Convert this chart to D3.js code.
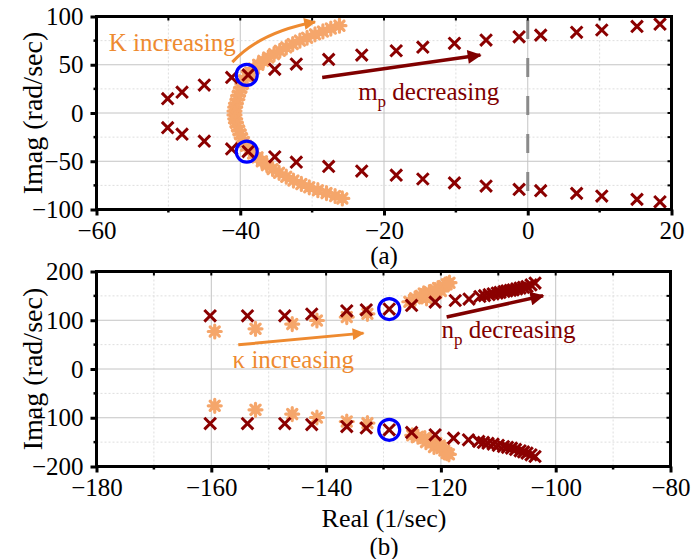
<!DOCTYPE html>
<html>
<head>
<meta charset="utf-8">
<script src="https://cdn.jsdelivr.net/npm/d3@7"></script>
<style>
  body { margin: 0; background: #fff; }
  svg { display: block; }
</style>
</head>
<body>
<div id="chart"></div>
<script>
// ---- panel (a): m_p sweep (crosses) and K sweep (asterisks) ----
const aCrossX = [-50.1, -48.1, -45.0, -41.2, -38.9, -35.2, -32.2, -27.7, -23.1, -18.3, -14.6, -10.2, -5.8, -1.2, 1.8, 6.8, 10.3, 15.2, 18.4];
const aCrossUp = [14.8, 21.6, 29, 36.9, 39.4, 45.3, 50.7, 55.5, 60, 64.5, 68.2, 72.2, 75.6, 79, 80.7, 83.6, 86, 89.7, 92];
const aCrossDown = [-15.2, -22.0, -29.2, -37.2, -40.0, -45.4, -51.0, -55.4, -60.2, -64.4, -68.4, -72.4, -75.7, -79.2, -80.5, -83.3, -86.1, -89.5, -92];

const aStarUp = [
  [-40.8, 2], [-40.7, 6], [-40.6, 10], [-40.4, 14], [-40.3, 18], [-40.1, 22], [-39.9, 26], [-39.7, 30],
  [-39.5, 34], [-39.1, 38], [-38.6, 42], [-38.1, 46], [-37.5, 50], [-36.8, 54], [-36.1, 57.5], [-35.3, 61],
  [-34.5, 64.5], [-33.6, 68], [-32.7, 71.5], [-31.7, 75], [-30.7, 78], [-29.6, 81.5], [-28.5, 84.5],
  [-27.4, 87.5], [-26.2, 90.5]
];
const aStarDown = [
  [-40.8, -2], [-40.7, -6], [-40.6, -10], [-40.4, -14], [-40.2, -18], [-40.0, -22], [-39.8, -26], [-39.5, -30],
  [-39.2, -34], [-38.7, -38], [-38.2, -42], [-37.6, -46], [-37.0, -50], [-36.3, -54], [-35.5, -58], [-34.6, -62],
  [-33.6, -66], [-32.6, -70], [-31.5, -73.5], [-30.4, -77], [-29.2, -80], [-28.0, -83], [-26.8, -86], [-25.8, -88.5]
];
const aCircles = [[-39.1, 39.5], [-39.1, -40]];

// ---- panel (b): n_p sweep (crosses) and kappa sweep (asterisks) ----
const bCrossUp = [
  [-160.2, 109], [-153.7, 109], [-147.2, 109], [-142.5, 112.6], [-136.4, 119.4], [-133.0, 121.4], [-129.0, 123],
  [-125.1, 130.3], [-121.0, 137.2], [-117.5, 140.5], [-115.1, 143.4], [-113.2, 148.7], [-112.4, 150.5],
  [-111.6, 152.5], [-110.9, 154.3], [-110.2, 155.8], [-109.7, 157], [-109.0, 159], [-108.5, 160.4],
  [-107.9, 161.5], [-107.4, 162.5], [-106.8, 164.3], [-106.2, 166], [-105.6, 167.6], [-105.0, 169.2],
  [-104.3, 172.5], [-103.6, 176.2]
];
const bCrossDown = [
  [-160.2, -112], [-153.7, -112], [-147.2, -112], [-142.5, -114], [-136.4, -118], [-133.0, -121], [-129.0, -124.7],
  [-125.1, -130.2], [-121.0, -135], [-117.8, -141.8], [-115.2, -145.2], [-113.4, -148.5], [-112.6, -150.7],
  [-111.8, -152.3], [-110.9, -154], [-110.0, -156.5], [-109.1, -159], [-108.4, -160.7], [-107.7, -162.3],
  [-107.0, -165], [-106.2, -167.8], [-105.6, -170.2], [-105.0, -172.5], [-104.3, -176], [-103.6, -179.5]
];
const bStarUp = [
  [-159.4, 76.9], [-152.3, 82.5], [-145.9, 92.1], [-141.6, 99.5], [-136.4, 106.5], [-132.8, 113.2],
  [-125.5, 138], [-124.5, 145], [-123.5, 150], [-122.5, 145], [-123.0, 155], [-122.0, 158], [-121.0, 155],
  [-121.0, 162], [-120.0, 160], [-120.5, 166], [-119.5, 170], [-119.0, 174], [-118.5, 177]
];
const bStarDown = [
  [-159.4, -75.5], [-152.3, -83.7], [-145.9, -92.5], [-141.6, -99.5], [-136.4, -107.7], [-132.8, -111],
  [-125.0, -136], [-124.0, -139], [-122.8, -141.5], [-121.8, -146], [-122.6, -150], [-120.8, -152],
  [-120.2, -157], [-121.2, -160], [-119.9, -162.3], [-119.4, -167], [-119.0, -172.5], [-118.6, -175]
];
const bCircles = [[-129, 123], [-129, -124.7]];

const aXTicks = [-60, -40, -20, 0, 20];
const aYTicks = [-100, -50, 0, 50, 100];
const bXTicks = [-180, -160, -140, -120, -100, -80];
const bYTicks = [-200, -100, 0, 100, 200];

const W = 691, H = 559;
const FONT = '"Liberation Serif", "Times New Roman", Tinos, "DejaVu Serif", serif';
const crossColor = "#8b0000";
const starColor = "#f5a66b";
const noteOrange = "#ee8a30";
const noteRed = "#800000";

const svg = d3.select("#chart").append("svg")
  .attr("width", W).attr("height", H)
  .style("font-family", FONT);

const defs = svg.append("defs");
[["headOrange", noteOrange], ["headRed", noteRed]].forEach(([id, c]) => {
  defs.append("marker")
    .attr("id", id)
    .attr("viewBox", "0 0 10 10")
    .attr("refX", 9).attr("refY", 5)
    .attr("markerWidth", 5).attr("markerHeight", 4)
    .attr("markerUnits", "strokeWidth")
    .attr("orient", "auto")
    .append("path")
    .attr("d", "M0,0 L10,5 L0,10 z")
    .attr("fill", c);
});

function crossPath(s) {
  return `M${-s},${-s}L${s},${s}M${-s},${s}L${s},${-s}`;
}
function starPath(s) {
  const d = s * 0.707;
  return `M${-s},0L${s},0M0,${-s}L0,${s}M${-d},${-d}L${d},${d}M${-d},${d}L${d},${-d}`;
}

function panel(opt) {
  const x = d3.scaleLinear().domain(opt.xDomain).range([opt.left, opt.right]);
  const y = d3.scaleLinear().domain(opt.yDomain).range([opt.bottom, opt.top]);
  const g = svg.append("g");

  // grid
  const xMinor = d3.range(opt.xDomain[0], opt.xDomain[1] + 0.001, opt.xStep / 2);
  const yMinor = d3.range(opt.yDomain[0], opt.yDomain[1] + 0.001, opt.yStep / 2);
  g.append("g").selectAll("line").data(xMinor).join("line")
    .attr("x1", d => x(d)).attr("x2", d => x(d))
    .attr("y1", opt.top).attr("y2", opt.bottom)
    .attr("stroke", (d, i) => i % 2 ? "#dedede" : "#c4c4c4")
    .attr("stroke-width", 1)
    .attr("stroke-dasharray", (d, i) => i % 2 ? "2,2" : null);
  g.append("g").selectAll("line").data(yMinor).join("line")
    .attr("y1", d => y(d)).attr("y2", d => y(d))
    .attr("x1", opt.left).attr("x2", opt.right)
    .attr("stroke", (d, i) => i % 2 ? "#dedede" : "#c4c4c4")
    .attr("stroke-width", 1)
    .attr("stroke-dasharray", (d, i) => i % 2 ? "2,2" : null);

  if (opt.extra) opt.extra(g, x, y);

  // markers
  const star = starPath(6.5), cross = crossPath(5.8);
  g.append("g").selectAll("path").data(opt.stars).join("path")
    .attr("transform", d => `translate(${x(d[0])},${y(d[1])})`)
    .attr("d", star)
    .attr("fill", "none").attr("stroke", starColor)
    .attr("stroke-width", 3.2).attr("stroke-linecap", "round");
  g.append("g").selectAll("path").data(opt.crosses).join("path")
    .attr("transform", d => `translate(${x(d[0])},${y(d[1])})`)
    .attr("d", cross)
    .attr("fill", "none").attr("stroke", crossColor)
    .attr("stroke-width", 3);
  g.append("g").selectAll("circle").data(opt.circles).join("circle")
    .attr("cx", d => x(d[0])).attr("cy", d => y(d[1]))
    .attr("r", 10.5)
    .attr("fill", "none").attr("stroke", "#0000ff").attr("stroke-width", 3.2);

  // annotations
  opt.notes(g, x, y);

  // axes
  const fmt = d3.format("d");
  const ax = g.append("g").attr("transform", `translate(0,${opt.bottom})`)
    .call(d3.axisBottom(x).tickValues(opt.xTicks).tickSize(6).tickPadding(6).tickFormat(fmt));
  const ay = g.append("g").attr("transform", `translate(${opt.left},0)`)
    .call(d3.axisLeft(y).tickValues(opt.yTicks).tickSize(6).tickPadding(7).tickFormat(fmt));
  [ax, ay].forEach(a => {
    a.attr("font-family", null).attr("font-size", null);
    a.select(".domain").remove();
    a.selectAll("line").attr("stroke", "#000").attr("stroke-width", 3);
    a.selectAll("text").attr("fill", "#000").style("font-size", "25px")
      .style("font-family", FONT);
  });
  // minor ticks
  g.append("g").selectAll("line").data(xMinor.filter((d, i) => i % 2)).join("line")
    .attr("x1", d => x(d)).attr("x2", d => x(d))
    .attr("y1", opt.bottom).attr("y2", opt.bottom + 3)
    .attr("stroke", "#000").attr("stroke-width", 2.5);
  g.append("g").selectAll("line").data(yMinor.filter((d, i) => i % 2)).join("line")
    .attr("y1", d => y(d)).attr("y2", d => y(d))
    .attr("x1", opt.left - 3).attr("x2", opt.left)
    .attr("stroke", "#000").attr("stroke-width", 2.5);
  // inner ticks on top/right
  g.append("g").selectAll("line").data(xMinor).join("line")
    .attr("x1", d => x(d)).attr("x2", d => x(d))
    .attr("y1", opt.top).attr("y2", opt.top + 4)
    .attr("stroke", "#000").attr("stroke-width", 2);
  g.append("g").selectAll("line").data(yMinor).join("line")
    .attr("y1", d => y(d)).attr("y2", d => y(d))
    .attr("x1", opt.right - 4).attr("x2", opt.right)
    .attr("stroke", "#000").attr("stroke-width", 2);

  // frame
  g.append("rect")
    .attr("x", opt.left).attr("y", opt.top)
    .attr("width", opt.right - opt.left).attr("height", opt.bottom - opt.top)
    .attr("fill", "none").attr("stroke", "#000").attr("stroke-width", 3);

  // y title
  g.append("text")
    .attr("transform", `translate(42,${(opt.top + opt.bottom) / 2}) rotate(-90)`)
    .attr("text-anchor", "middle")
    .style("font-size", "28px")
    .text("Imag (rad/sec)");
  return { x, y };
}

function arrow(g, path, color, head, width) {
  g.append("path").attr("d", path)
    .attr("fill", "none").attr("stroke", color)
    .attr("stroke-width", width)
    .attr("marker-end", `url(#${head})`);
}

function subText(g, px, py, color, main, sub, rest) {
  const t = g.append("text").attr("x", px).attr("y", py)
    .attr("fill", color).style("font-size", "25px");
  t.append("tspan").text(main);
  t.append("tspan").attr("dy", 7).style("font-size", "17px").text(sub);
  t.append("tspan").attr("dy", -7).text(rest);
}

// panel (a)
panel({
  xDomain: [-60, 20], yDomain: [-100, 100], xStep: 20, yStep: 50,
  left: 96.5, right: 671.5, top: 16.5, bottom: 209.5,
  xTicks: aXTicks, yTicks: aYTicks,
  stars: aStarUp.concat(aStarDown),
  crosses: aCrossX.map((v, i) => [v, aCrossUp[i]]).concat(aCrossX.map((v, i) => [v, aCrossDown[i]])),
  circles: aCircles,
  extra: (g, x, y) => {
    g.append("line")
      .attr("x1", x(0)).attr("x2", x(0))
      .attr("y1", y(100)).attr("y2", y(-100))
      .attr("stroke", "#8a8a8a").attr("stroke-width", 3)
      .attr("stroke-dasharray", "19,19").attr("stroke-dashoffset", 34.5);
  },
  notes: (g, x, y) => {
    g.append("text").attr("x", x(-58.3)).attr("y", y(64.6))
      .attr("fill", noteOrange).style("font-size", "25px").text("K increasing");
    arrow(g, `M${x(-41.1)},${y(52.7)}Q${x(-37.2)},${y(84)} ${x(-29.6)},${y(94.3)}`, noteOrange, "headOrange", 3);
    subText(g, x(-23.6), y(13.5), noteRed, "m", "p", " decreasing");
    arrow(g, `M${x(-28.6)},${y(36.8)}L${x(-6.6)},${y(60)}`, noteRed, "headRed", 3.5);
  }
});
svg.append("text").attr("x", 384).attr("y", 264).attr("text-anchor", "middle")
  .style("font-size", "25px").text("(a)");

// panel (b)
panel({
  xDomain: [-180, -80], yDomain: [-200, 200], xStep: 20, yStep: 100,
  left: 96.5, right: 670.5, top: 271.5, bottom: 466.5,
  xTicks: bXTicks, yTicks: bYTicks,
  stars: bStarUp.concat(bStarDown),
  crosses: bCrossUp.concat(bCrossDown),
  circles: bCircles,
  notes: (g, x, y) => {
    g.append("text").attr("x", x(-156.3)).attr("y", y(1.5))
      .attr("fill", noteOrange).style("font-size", "25px").text("κ increasing");
    arrow(g, `M${x(-155.3)},${y(49.6)}L${x(-133.5)},${y(73.6)}`, noteOrange, "headOrange", 3);
    subText(g, x(-119.9), y(63), noteRed, "n", "p", " decreasing");
    arrow(g, `M${x(-119)},${y(106.5)}L${x(-102.2)},${y(150.2)}`, noteRed, "headRed", 3.5);
  }
});
svg.append("text").attr("x", 384).attr("y", 527).attr("text-anchor", "middle")
  .style("font-size", "26px").text("Real (1/sec)");
svg.append("text").attr("x", 384).attr("y", 555).attr("text-anchor", "middle")
  .style("font-size", "25px").text("(b)");
</script>
</body>
</html>
